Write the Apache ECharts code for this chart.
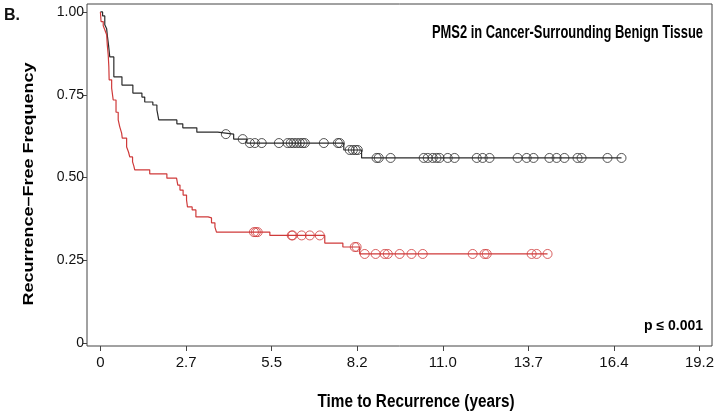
<!DOCTYPE html>
<html>
<head>
<meta charset="utf-8">
<script src="https://cdn.jsdelivr.net/npm/echarts@6/dist/echarts.min.js"></script>
<style>
html,body{margin:0;padding:0;background:#fff;}
#c{width:722px;height:413px;}
</style>
</head>
<body>
<div id="c"></div>
<script>
// ---- Data ----
const blackTimes = [0, 0.07, 0.14, 0.20, 0.22, 0.26, 0.30, 0.43, 0.69, 1.04, 1.33, 1.42, 1.68, 1.81, 1.87, 2.45, 2.64, 3.09, 3.76, 4.27, 4.69, 7.80, 8.37];
const blackSurv  = [1.0, 0.988, 0.961, 0.949, 0.930, 0.900, 0.864, 0.804, 0.779, 0.755, 0.743, 0.728, 0.719, 0.704, 0.674, 0.662, 0.650, 0.637, 0.631, 0.616, 0.604, 0.583, 0.559];
const blackCensor = [4.02, 4.56, 4.79, 4.95, 5.17, 5.72, 6.00, 6.10, 6.19, 6.29, 6.39, 6.48, 6.55, 7.16, 7.61, 7.67, 7.99, 8.09, 8.18, 8.25, 8.85, 8.92, 9.30, 10.36, 10.49, 10.65, 10.77, 10.87, 11.13, 11.35, 12.06, 12.25, 12.47, 13.37, 13.66, 13.88, 14.39, 14.62, 14.87, 15.29, 15.42, 16.25, 16.70];

const redTimes = [0, 0.02, 0.09, 0.14, 0.20, 0.22, 0.25, 0.27, 0.28, 0.36, 0.41, 0.50, 0.57, 0.62, 0.68, 0.70, 0.84, 0.90, 0.94, 1.03, 1.07, 1.10, 1.58, 2.13, 2.44, 2.48, 2.55, 2.65, 2.76, 2.79, 2.94, 3.06, 3.45, 3.56, 3.67, 3.72, 5.43, 7.19, 7.77, 8.31];
const redSurv  = [1.0, 0.971, 0.958, 0.946, 0.931, 0.900, 0.870, 0.834, 0.795, 0.770, 0.734, 0.697, 0.674, 0.653, 0.634, 0.619, 0.592, 0.577, 0.562, 0.547, 0.535, 0.523, 0.511, 0.498, 0.492, 0.477, 0.462, 0.447, 0.432, 0.411, 0.402, 0.381, 0.378, 0.363, 0.350, 0.335, 0.325, 0.302, 0.290, 0.269];
const redCensor = [4.92, 4.98, 5.04, 6.13, 6.16, 6.45, 6.71, 7.03, 8.15, 8.21, 8.47, 8.82, 9.11, 9.21, 9.59, 9.97, 10.33, 11.93, 12.31, 12.38, 13.82, 13.98, 14.33];

const xTickInterval = 2.74;
const xTickMax = 19.18;
const yTickInterval = 0.25;

const titleText = 'PMS2 in Cancer-Surrounding Benign Tissue';
const panelLabel = 'B.';
const yAxisTitle = 'Recurrence\u2013Free Frequency';
const xAxisTitle = 'Time to Recurrence (years)';
const pText = 'p \u2264 0.001';

// ---- helpers ----
function survAt(times, vals, t) {
  let v = vals[0];
  for (let i = 0; i < times.length; i++) { if (times[i] <= t) v = vals[i]; }
  return v;
}
function stepData(times, vals, censor) {
  const d = times.map((t, i) => [t, vals[i]]);
  const last = Math.max(times[times.length - 1], censor[censor.length - 1]);
  d.push([last, survAt(times, vals, last)]);
  return d;
}
function censorData(times, vals, censor) {
  return censor.map(t => [t, survAt(times, vals, t)]);
}

const BLACK = '#2b2b2b';
const RED = '#cf3a3a';
const FONT = '"Liberation Sans", Arial, sans-serif';

const chart = echarts.init(document.getElementById('c'), null, {renderer: 'canvas'});
chart.setOption({
  animation: false,
  backgroundColor: '#fff',
  grid: [
    {left: 87, top: 4, width: 625, height: 342, show: true, borderColor: '#444', borderWidth: 1, backgroundColor: 'transparent'},
    {left: 87, top: 12, width: 625, height: 331},
    {left: 100.5, top: 4, width: 599, height: 342}
  ],
  xAxis: [
    {gridIndex: 0, type: 'value', min: -0.43, max: 19.6, show: false},
    {gridIndex: 1, type: 'value', min: 0, max: 1, show: false},
    {gridIndex: 2, type: 'value', min: 0, max: xTickMax, interval: xTickInterval, position: 'bottom', offset: 2,
      axisLine: {show: false}, splitLine: {show: false},
      axisTick: {show: true, length: 5, lineStyle: {color: '#444', width: 1}},
      axisLabel: {show: true, showMaxLabel: true, showMinLabel: true, margin: 7, color: '#111', fontSize: 15, fontFamily: FONT,
        formatter: v => (Math.abs(v) < 1e-9 ? '0' : v.toFixed(1))}}
  ],
  yAxis: [
    {gridIndex: 0, type: 'value', min: -0.009, max: 1.024, show: false},
    {gridIndex: 1, type: 'value', min: 0, max: 1, interval: yTickInterval, position: 'left',
      axisLine: {show: false}, splitLine: {show: false},
      axisTick: {show: true, length: 4, lineStyle: {color: '#444', width: 1}},
      axisLabel: {show: true, margin: 3, color: '#111', fontSize: 14, fontFamily: FONT,
        formatter: v => (Math.abs(v) < 1e-9 ? '0' : v.toFixed(2))}},
    {gridIndex: 2, type: 'value', min: 0, max: 1, show: false}
  ],
  series: [
    {type: 'line', name: 'black', xAxisIndex: 0, yAxisIndex: 0, step: 'end', showSymbol: false, silent: true,
      lineStyle: {color: BLACK, width: 1.2}, data: stepData(blackTimes, blackSurv, blackCensor), z: 3},
    {type: 'line', name: 'red', xAxisIndex: 0, yAxisIndex: 0, step: 'end', showSymbol: false, silent: true,
      lineStyle: {color: RED, width: 1.2}, data: stepData(redTimes, redSurv, redCensor), z: 3},
    {type: 'scatter', xAxisIndex: 0, yAxisIndex: 0, symbol: 'circle', symbolSize: 9, silent: true,
      itemStyle: {color: 'rgba(0,0,0,0)', borderColor: BLACK, borderWidth: 1},
      data: censorData(blackTimes, blackSurv, blackCensor), z: 4},
    {type: 'scatter', xAxisIndex: 0, yAxisIndex: 0, symbol: 'circle', symbolSize: 9, silent: true,
      itemStyle: {color: 'rgba(0,0,0,0)', borderColor: RED, borderWidth: 1},
      data: censorData(redTimes, redSurv, redCensor), z: 4}
  ],
  graphic: [
    {type: 'text', x: 4, y: 16, style: {text: panelLabel, font: 'bold 16px ' + FONT, fill: '#111', align: 'left', verticalAlign: 'middle'}},
    {type: 'text', x: 703, y: 33, scaleX: 0.68, style: {text: titleText, font: 'bold 19px ' + FONT, fill: '#000', align: 'right', verticalAlign: 'middle'}},
    {type: 'text', x: 29, y: 184, rotation: Math.PI / 2, scaleY: 0.78, style: {text: yAxisTitle, font: 'bold 18px ' + FONT, fill: '#000', align: 'center', verticalAlign: 'middle'}},
    {type: 'text', x: 416, y: 402, scaleX: 0.85, style: {text: xAxisTitle, font: 'bold 18px ' + FONT, fill: '#000', align: 'center', verticalAlign: 'middle'}},
    {type: 'text', x: 703, y: 326, style: {text: pText, font: 'bold 14px ' + FONT, fill: '#000', align: 'right', verticalAlign: 'middle'}}
  ]
});
</script>
</body>
</html>
